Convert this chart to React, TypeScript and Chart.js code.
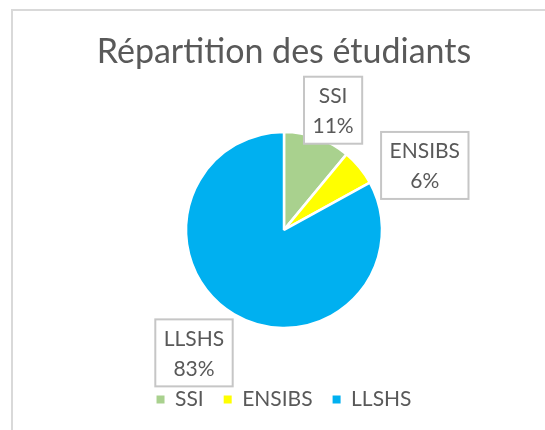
import React, { useEffect, useRef } from "react";
import { Chart, registerables } from "chart.js";

Chart.register(...registerables);

const TITLE = "Répartition des étudiants";
const categories = ["SSI", "ENSIBS", "LLSHS"];
const values = [11, 6, 83];
const colors = ["#a9d18e", "#ffff00", "#00b0f0"];

const FONT = "Lato, 'Open Sans', sans-serif";
const TEXT = "#595959";

// label placement relative to each slice's mid angle (deg offset, radius factor)
const labelPlacement = [
  { dAngle: 2.5, factor: 1.32 },
  { dAngle: 15, factor: 1.58 },
  { dAngle: 5.6, factor: 1.555 },
];

const labelPlugin = {
  id: "boxLabels",
  afterDatasetsDraw(chart: any) {
    const meta = chart.getDatasetMeta(0);
    const ctx = chart.ctx;
    const total = values.reduce((a, b) => a + b, 0);
    ctx.save();
    ctx.font = `21px ${FONT}`;
    ctx.textAlign = "center";
    ctx.textBaseline = "middle";
    meta.data.forEach((arc: any, i: number) => {
      const { x, y, startAngle, endAngle, outerRadius } = arc.getProps(
        ["x", "y", "startAngle", "endAngle", "outerRadius"],
        true
      );
      const p = labelPlacement[i];
      const mid = (startAngle + endAngle) / 2 + (p.dAngle * Math.PI) / 180;
      const cx = x + Math.cos(mid) * outerRadius * p.factor;
      const cy = y + Math.sin(mid) * outerRadius * p.factor;
      const l1 = categories[i];
      const l2 = Math.round((values[i] / total) * 100) + "%";
      const w = Math.max(ctx.measureText(l1).width, ctx.measureText(l2).width) + 17;
      const h = 67;
      ctx.fillStyle = "#ffffff";
      ctx.fillRect(cx - w / 2, cy - h / 2, w, h);
      ctx.strokeStyle = "#c6c6c6";
      ctx.lineWidth = 2;
      ctx.strokeRect(cx - w / 2, cy - h / 2, w, h);
      ctx.fillStyle = TEXT;
      ctx.fillText(l1, cx, cy - 14);
      ctx.fillText(l2, cx, cy + 16);
    });
    ctx.restore();
  },
};

export default function App() {
  const ref = useRef<HTMLCanvasElement>(null);
  useEffect(() => {
    const chart = new Chart(ref.current!, {
      type: "pie",
      data: {
        labels: categories,
        datasets: [
          {
            data: values,
            backgroundColor: colors,
            borderColor: "#ffffff",
            borderWidth: 2.5,
          },
        ],
      },
      options: {
        animation: false,
        responsive: false,
        radius: 98,
        layout: { padding: { left: 23, right: 0, top: 0, bottom: 10 } },
        plugins: {
          tooltip: { enabled: false },
          title: {
            display: true,
            text: TITLE,
            color: TEXT,
            font: { family: FONT, size: 34, weight: "normal" },
            padding: { top: 32, bottom: 18 },
          },
          legend: {
            display: true,
            position: "bottom",
            labels: {
              color: TEXT,
              font: { family: FONT, size: 21 },
              boxWidth: 8,
              boxHeight: 8,
              padding: 20,
              generateLabels(c: any) {
                const items = Chart.overrides.pie.plugins.legend.labels.generateLabels(c);
                return items.map((it: any) => ({ ...it, lineWidth: 0, strokeStyle: "transparent" }));
              },
            },
          },
        },
      } as any,
      plugins: [labelPlugin],
    });
    return () => chart.destroy();
  }, []);
  return (
    <div
      style={{
        position: "fixed",
        left: 0,
        top: 0,
        width: 545,
        height: 430,
        overflow: "hidden",
        background: "#ffffff",
      }}
    >
      <div
        style={{
          position: "absolute",
          left: 11,
          top: 9,
          width: 700,
          height: 600,
          border: "2px solid #d9d9d9",
        }}
      />
      <canvas
        ref={ref}
        width={545}
        height={430}
        style={{ position: "absolute", left: 0, top: 0, width: 545, height: 430 }}
      />
    </div>
  );
}
